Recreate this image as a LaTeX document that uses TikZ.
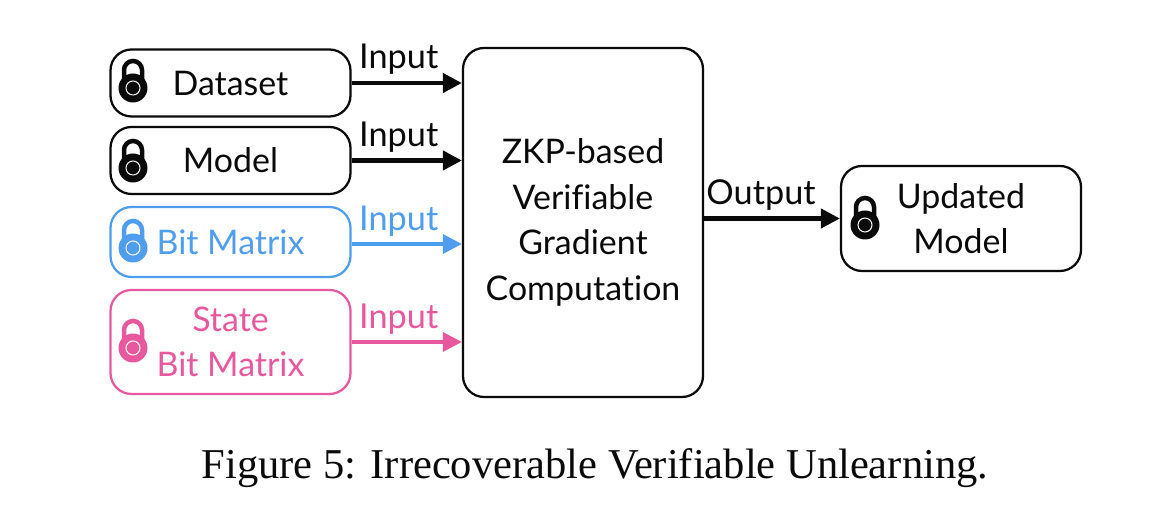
\documentclass[tikz,border=0pt]{standalone}
\usepackage{fontspec}
\setmainfont[Ligatures=NoCommon]{Lato}
\newfontfamily\capfont{Liberation Serif}
\usetikzlibrary{arrows.meta}
\definecolor{bitblue}{HTML}{4F9DEE}
\definecolor{statepink}{HTML}{E8589F}
\definecolor{inkblack}{HTML}{0A0A0A}
\tikzset{
    box/.style={draw, rounded corners=.42cm, line width=.045cm, minimum width=4.8cm, align=center,
        font=\fontsize{19.3}{26}\selectfont},
    feed/.style={-{Triangle[length=.38cm,width=.38cm]}, line width=.085cm},
    tag/.style={above, inner sep=0pt, yshift=.12cm, xshift=-.16cm, font=\fontsize{19.5}{22}\selectfont},
    lockpic/.pic={
        \draw[line width=.09cm, pic actions] (-.18,.1) -- (-.18,.36) arc (180:0:.18) -- (.18,.1);
        \fill[pic actions] (0,0) circle (.29);
        \draw[white, line width=.02cm] (0,0) circle (.14);
    }
}
\begin{document}
\begin{tikzpicture}[inkblack]

    \useasboundingbox (0,0) rectangle (23.4,10.34);

    \node[box, minimum height=1.34cm] (dataset) at (4.61,8.68) {Dataset};
    \node[box, minimum height=1.34cm] (model)   at (4.61,7.13) {Model};
    \node[box, minimum height=1.40cm, draw=bitblue, text=bitblue] (bitmatrix) at (4.61,5.50) {Bit Matrix};
    \node[box, minimum height=2.08cm, draw=statepink, text=statepink] (statematrix) at (4.61,3.50) {State\\Bit Matrix};

    \node[box, minimum height=6.98cm] (compute) at (11.66,5.89) {ZKP-based\\Verifiable\\Gradient\\Computation};
    \node[box, minimum height=2.10cm] (updated) at (19.22,5.97) {Updated\\Model};

    \pic at (2.66,8.58) {lockpic};
    \pic at (2.66,6.98) {lockpic};
    \pic[color=bitblue] at (2.66,5.38) {lockpic};
    \pic[color=statepink] at (2.66,3.38) {lockpic};
    \pic at (17.30,5.84) {lockpic};

    \draw[feed] (dataset.east) -- node[tag] {Input} (dataset.east -| compute.west);
    \draw[feed] (model.east) -- node[tag] {Input} (model.east -| compute.west);
    \draw[feed, bitblue, line width=.07cm] ([yshift=-.04cm]bitmatrix.east) -- node[tag] {Input} ([yshift=-.04cm]bitmatrix.east -| compute.west);
    \draw[feed, statepink, line width=.07cm] (statematrix.east) -- node[tag] {Input} (statematrix.east -| compute.west);
    \draw[feed] (updated.west -| compute.east) -- node[tag, xshift=-.06cm] {Output} (updated.west);

    \node[font=\capfont\fontsize{24.2}{28}\selectfont] (caption) at (11.9,0.98) {Figure 5: Irrecoverable Verifiable Unlearning.};

\end{tikzpicture}
\end{document}
